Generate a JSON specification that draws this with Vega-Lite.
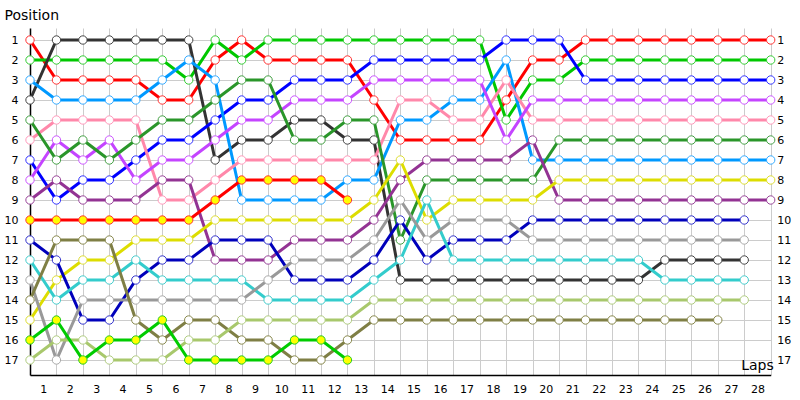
{
"$schema": "https://vega.github.io/schema/vega-lite/v6.json",
"width": 740.7, "height": 347,
"autosize": {"type": "none"},
"padding": {"left": 30, "top": 28, "right": 29.3, "bottom": 25},
"background": "white",
"config": {"view": {"stroke": null}, "font": "DejaVu Sans"},
"data": {"values": [
{"d":"Red","l":0,"p":1},{"d":"Red","l":1,"p":3},{"d":"Red","l":2,"p":3},{"d":"Red","l":3,"p":3},{"d":"Red","l":4,"p":3},{"d":"Red","l":5,"p":4},{"d":"Red","l":6,"p":4},{"d":"Red","l":7,"p":2},{"d":"Red","l":8,"p":1},{"d":"Red","l":9,"p":2},{"d":"Red","l":10,"p":2},{"d":"Red","l":11,"p":2},{"d":"Red","l":12,"p":2},{"d":"Red","l":13,"p":4},{"d":"Red","l":14,"p":6},{"d":"Red","l":15,"p":6},{"d":"Red","l":16,"p":6},{"d":"Red","l":17,"p":6},{"d":"Red","l":18,"p":4},{"d":"Red","l":19,"p":2},{"d":"Red","l":20,"p":2},{"d":"Red","l":21,"p":1},{"d":"Red","l":22,"p":1},{"d":"Red","l":23,"p":1},{"d":"Red","l":24,"p":1},{"d":"Red","l":25,"p":1},{"d":"Red","l":26,"p":1},{"d":"Red","l":27,"p":1},{"d":"Red","l":28,"p":1},
{"d":"Green","l":0,"p":2},{"d":"Green","l":1,"p":2},{"d":"Green","l":2,"p":2},{"d":"Green","l":3,"p":2},{"d":"Green","l":4,"p":2},{"d":"Green","l":5,"p":2},{"d":"Green","l":6,"p":3},{"d":"Green","l":7,"p":1},{"d":"Green","l":8,"p":2},{"d":"Green","l":9,"p":1},{"d":"Green","l":10,"p":1},{"d":"Green","l":11,"p":1},{"d":"Green","l":12,"p":1},{"d":"Green","l":13,"p":1},{"d":"Green","l":14,"p":1},{"d":"Green","l":15,"p":1},{"d":"Green","l":16,"p":1},{"d":"Green","l":17,"p":1},{"d":"Green","l":18,"p":5},{"d":"Green","l":19,"p":3},{"d":"Green","l":20,"p":3},{"d":"Green","l":21,"p":2},{"d":"Green","l":22,"p":2},{"d":"Green","l":23,"p":2},{"d":"Green","l":24,"p":2},{"d":"Green","l":25,"p":2},{"d":"Green","l":26,"p":2},{"d":"Green","l":27,"p":2},{"d":"Green","l":28,"p":2},
{"d":"Black","l":0,"p":4},{"d":"Black","l":1,"p":1},{"d":"Black","l":2,"p":1},{"d":"Black","l":3,"p":1},{"d":"Black","l":4,"p":1},{"d":"Black","l":5,"p":1},{"d":"Black","l":6,"p":1},{"d":"Black","l":7,"p":7},{"d":"Black","l":8,"p":6},{"d":"Black","l":9,"p":6},{"d":"Black","l":10,"p":5},{"d":"Black","l":11,"p":5},{"d":"Black","l":12,"p":6},{"d":"Black","l":13,"p":6},{"d":"Black","l":14,"p":13},{"d":"Black","l":15,"p":13},{"d":"Black","l":16,"p":13},{"d":"Black","l":17,"p":13},{"d":"Black","l":18,"p":13},{"d":"Black","l":19,"p":13},{"d":"Black","l":20,"p":13},{"d":"Black","l":21,"p":13},{"d":"Black","l":22,"p":13},{"d":"Black","l":23,"p":13},{"d":"Black","l":24,"p":12},{"d":"Black","l":25,"p":12},{"d":"Black","l":26,"p":12},{"d":"Black","l":27,"p":12},
{"d":"Blue","l":0,"p":7},{"d":"Blue","l":1,"p":9},{"d":"Blue","l":2,"p":8},{"d":"Blue","l":3,"p":8},{"d":"Blue","l":4,"p":7},{"d":"Blue","l":5,"p":6},{"d":"Blue","l":6,"p":6},{"d":"Blue","l":7,"p":5},{"d":"Blue","l":8,"p":4},{"d":"Blue","l":9,"p":4},{"d":"Blue","l":10,"p":3},{"d":"Blue","l":11,"p":3},{"d":"Blue","l":12,"p":3},{"d":"Blue","l":13,"p":2},{"d":"Blue","l":14,"p":2},{"d":"Blue","l":15,"p":2},{"d":"Blue","l":16,"p":2},{"d":"Blue","l":17,"p":2},{"d":"Blue","l":18,"p":1},{"d":"Blue","l":19,"p":1},{"d":"Blue","l":20,"p":1},{"d":"Blue","l":21,"p":3},{"d":"Blue","l":22,"p":3},{"d":"Blue","l":23,"p":3},{"d":"Blue","l":24,"p":3},{"d":"Blue","l":25,"p":3},{"d":"Blue","l":26,"p":3},{"d":"Blue","l":27,"p":3},{"d":"Blue","l":28,"p":3},
{"d":"Sky","l":0,"p":3},{"d":"Sky","l":1,"p":4},{"d":"Sky","l":2,"p":4},{"d":"Sky","l":3,"p":4},{"d":"Sky","l":4,"p":4},{"d":"Sky","l":5,"p":3},{"d":"Sky","l":6,"p":2},{"d":"Sky","l":7,"p":3},{"d":"Sky","l":8,"p":9},{"d":"Sky","l":9,"p":9},{"d":"Sky","l":10,"p":9},{"d":"Sky","l":11,"p":9},{"d":"Sky","l":12,"p":8},{"d":"Sky","l":13,"p":8},{"d":"Sky","l":14,"p":5},{"d":"Sky","l":15,"p":5},{"d":"Sky","l":16,"p":4},{"d":"Sky","l":17,"p":4},{"d":"Sky","l":18,"p":2},{"d":"Sky","l":19,"p":7},{"d":"Sky","l":20,"p":7},{"d":"Sky","l":21,"p":7},{"d":"Sky","l":22,"p":7},{"d":"Sky","l":23,"p":7},{"d":"Sky","l":24,"p":7},{"d":"Sky","l":25,"p":7},{"d":"Sky","l":26,"p":7},{"d":"Sky","l":27,"p":7},{"d":"Sky","l":28,"p":7},
{"d":"Pink","l":0,"p":6},{"d":"Pink","l":1,"p":5},{"d":"Pink","l":2,"p":5},{"d":"Pink","l":3,"p":5},{"d":"Pink","l":4,"p":5},{"d":"Pink","l":5,"p":9},{"d":"Pink","l":6,"p":9},{"d":"Pink","l":7,"p":8},{"d":"Pink","l":8,"p":7},{"d":"Pink","l":9,"p":7},{"d":"Pink","l":10,"p":7},{"d":"Pink","l":11,"p":7},{"d":"Pink","l":12,"p":7},{"d":"Pink","l":13,"p":7},{"d":"Pink","l":14,"p":4},{"d":"Pink","l":15,"p":4},{"d":"Pink","l":16,"p":5},{"d":"Pink","l":17,"p":5},{"d":"Pink","l":18,"p":3},{"d":"Pink","l":19,"p":5},{"d":"Pink","l":20,"p":5},{"d":"Pink","l":21,"p":5},{"d":"Pink","l":22,"p":5},{"d":"Pink","l":23,"p":5},{"d":"Pink","l":24,"p":5},{"d":"Pink","l":25,"p":5},{"d":"Pink","l":26,"p":5},{"d":"Pink","l":27,"p":5},{"d":"Pink","l":28,"p":5},
{"d":"Violet","l":0,"p":8},{"d":"Violet","l":1,"p":6},{"d":"Violet","l":2,"p":7},{"d":"Violet","l":3,"p":6},{"d":"Violet","l":4,"p":8},{"d":"Violet","l":5,"p":7},{"d":"Violet","l":6,"p":7},{"d":"Violet","l":7,"p":6},{"d":"Violet","l":8,"p":5},{"d":"Violet","l":9,"p":5},{"d":"Violet","l":10,"p":4},{"d":"Violet","l":11,"p":4},{"d":"Violet","l":12,"p":4},{"d":"Violet","l":13,"p":3},{"d":"Violet","l":14,"p":3},{"d":"Violet","l":15,"p":3},{"d":"Violet","l":16,"p":3},{"d":"Violet","l":17,"p":3},{"d":"Violet","l":18,"p":6},{"d":"Violet","l":19,"p":4},{"d":"Violet","l":20,"p":4},{"d":"Violet","l":21,"p":4},{"d":"Violet","l":22,"p":4},{"d":"Violet","l":23,"p":4},{"d":"Violet","l":24,"p":4},{"d":"Violet","l":25,"p":4},{"d":"Violet","l":26,"p":4},{"d":"Violet","l":27,"p":4},{"d":"Violet","l":28,"p":4},
{"d":"DarkGreen","l":0,"p":5},{"d":"DarkGreen","l":1,"p":7},{"d":"DarkGreen","l":2,"p":6},{"d":"DarkGreen","l":3,"p":7},{"d":"DarkGreen","l":4,"p":6},{"d":"DarkGreen","l":5,"p":5},{"d":"DarkGreen","l":6,"p":5},{"d":"DarkGreen","l":7,"p":4},{"d":"DarkGreen","l":8,"p":3},{"d":"DarkGreen","l":9,"p":3},{"d":"DarkGreen","l":10,"p":6},{"d":"DarkGreen","l":11,"p":6},{"d":"DarkGreen","l":12,"p":5},{"d":"DarkGreen","l":13,"p":5},{"d":"DarkGreen","l":14,"p":11},{"d":"DarkGreen","l":15,"p":8},{"d":"DarkGreen","l":16,"p":8},{"d":"DarkGreen","l":17,"p":8},{"d":"DarkGreen","l":18,"p":8},{"d":"DarkGreen","l":19,"p":8},{"d":"DarkGreen","l":20,"p":6},{"d":"DarkGreen","l":21,"p":6},{"d":"DarkGreen","l":22,"p":6},{"d":"DarkGreen","l":23,"p":6},{"d":"DarkGreen","l":24,"p":6},{"d":"DarkGreen","l":25,"p":6},{"d":"DarkGreen","l":26,"p":6},{"d":"DarkGreen","l":27,"p":6},{"d":"DarkGreen","l":28,"p":6},
{"d":"Purple","l":0,"p":9},{"d":"Purple","l":1,"p":8},{"d":"Purple","l":2,"p":9},{"d":"Purple","l":3,"p":9},{"d":"Purple","l":4,"p":9},{"d":"Purple","l":5,"p":8},{"d":"Purple","l":6,"p":8},{"d":"Purple","l":7,"p":12},{"d":"Purple","l":8,"p":12},{"d":"Purple","l":9,"p":12},{"d":"Purple","l":10,"p":11},{"d":"Purple","l":11,"p":11},{"d":"Purple","l":12,"p":11},{"d":"Purple","l":13,"p":10},{"d":"Purple","l":14,"p":8},{"d":"Purple","l":15,"p":7},{"d":"Purple","l":16,"p":7},{"d":"Purple","l":17,"p":7},{"d":"Purple","l":18,"p":7},{"d":"Purple","l":19,"p":6},{"d":"Purple","l":20,"p":9},{"d":"Purple","l":21,"p":9},{"d":"Purple","l":22,"p":9},{"d":"Purple","l":23,"p":9},{"d":"Purple","l":24,"p":9},{"d":"Purple","l":25,"p":9},{"d":"Purple","l":26,"p":9},{"d":"Purple","l":27,"p":9},{"d":"Purple","l":28,"p":9},
{"d":"Yellow","l":0,"p":15},{"d":"Yellow","l":1,"p":13},{"d":"Yellow","l":2,"p":12},{"d":"Yellow","l":3,"p":12},{"d":"Yellow","l":4,"p":11},{"d":"Yellow","l":5,"p":11},{"d":"Yellow","l":6,"p":11},{"d":"Yellow","l":7,"p":10},{"d":"Yellow","l":8,"p":10},{"d":"Yellow","l":9,"p":10},{"d":"Yellow","l":10,"p":10},{"d":"Yellow","l":11,"p":10},{"d":"Yellow","l":12,"p":10},{"d":"Yellow","l":13,"p":9},{"d":"Yellow","l":14,"p":7},{"d":"Yellow","l":15,"p":10},{"d":"Yellow","l":16,"p":9},{"d":"Yellow","l":17,"p":9},{"d":"Yellow","l":18,"p":9},{"d":"Yellow","l":19,"p":9},{"d":"Yellow","l":20,"p":8},{"d":"Yellow","l":21,"p":8},{"d":"Yellow","l":22,"p":8},{"d":"Yellow","l":23,"p":8},{"d":"Yellow","l":24,"p":8},{"d":"Yellow","l":25,"p":8},{"d":"Yellow","l":26,"p":8},{"d":"Yellow","l":27,"p":8},{"d":"Yellow","l":28,"p":8},
{"d":"Navy","l":0,"p":11},{"d":"Navy","l":1,"p":12},{"d":"Navy","l":2,"p":15},{"d":"Navy","l":3,"p":15},{"d":"Navy","l":4,"p":13},{"d":"Navy","l":5,"p":12},{"d":"Navy","l":6,"p":12},{"d":"Navy","l":7,"p":11},{"d":"Navy","l":8,"p":11},{"d":"Navy","l":9,"p":11},{"d":"Navy","l":10,"p":13},{"d":"Navy","l":11,"p":13},{"d":"Navy","l":12,"p":13},{"d":"Navy","l":13,"p":12},{"d":"Navy","l":14,"p":10},{"d":"Navy","l":15,"p":12},{"d":"Navy","l":16,"p":11},{"d":"Navy","l":17,"p":11},{"d":"Navy","l":18,"p":11},{"d":"Navy","l":19,"p":10},{"d":"Navy","l":20,"p":10},{"d":"Navy","l":21,"p":10},{"d":"Navy","l":22,"p":10},{"d":"Navy","l":23,"p":10},{"d":"Navy","l":24,"p":10},{"d":"Navy","l":25,"p":10},{"d":"Navy","l":26,"p":10},{"d":"Navy","l":27,"p":10},
{"d":"Teal","l":0,"p":12},{"d":"Teal","l":1,"p":14},{"d":"Teal","l":2,"p":13},{"d":"Teal","l":3,"p":13},{"d":"Teal","l":4,"p":12},{"d":"Teal","l":5,"p":13},{"d":"Teal","l":6,"p":13},{"d":"Teal","l":7,"p":13},{"d":"Teal","l":8,"p":13},{"d":"Teal","l":9,"p":14},{"d":"Teal","l":10,"p":14},{"d":"Teal","l":11,"p":14},{"d":"Teal","l":12,"p":14},{"d":"Teal","l":13,"p":13},{"d":"Teal","l":14,"p":12},{"d":"Teal","l":15,"p":9},{"d":"Teal","l":16,"p":12},{"d":"Teal","l":17,"p":12},{"d":"Teal","l":18,"p":12},{"d":"Teal","l":19,"p":12},{"d":"Teal","l":20,"p":12},{"d":"Teal","l":21,"p":12},{"d":"Teal","l":22,"p":12},{"d":"Teal","l":23,"p":12},{"d":"Teal","l":24,"p":13},{"d":"Teal","l":25,"p":13},{"d":"Teal","l":26,"p":13},{"d":"Teal","l":27,"p":13},
{"d":"Gray","l":0,"p":13},{"d":"Gray","l":1,"p":17},{"d":"Gray","l":2,"p":14},{"d":"Gray","l":3,"p":14},{"d":"Gray","l":4,"p":14},{"d":"Gray","l":5,"p":14},{"d":"Gray","l":6,"p":14},{"d":"Gray","l":7,"p":14},{"d":"Gray","l":8,"p":14},{"d":"Gray","l":9,"p":13},{"d":"Gray","l":10,"p":12},{"d":"Gray","l":11,"p":12},{"d":"Gray","l":12,"p":12},{"d":"Gray","l":13,"p":11},{"d":"Gray","l":14,"p":9},{"d":"Gray","l":15,"p":11},{"d":"Gray","l":16,"p":10},{"d":"Gray","l":17,"p":10},{"d":"Gray","l":18,"p":10},{"d":"Gray","l":19,"p":11},{"d":"Gray","l":20,"p":11},{"d":"Gray","l":21,"p":11},{"d":"Gray","l":22,"p":11},{"d":"Gray","l":23,"p":11},{"d":"Gray","l":24,"p":11},{"d":"Gray","l":25,"p":11},{"d":"Gray","l":26,"p":11},{"d":"Gray","l":27,"p":11},
{"d":"Olive","l":0,"p":14},{"d":"Olive","l":1,"p":11},{"d":"Olive","l":2,"p":11},{"d":"Olive","l":3,"p":11},{"d":"Olive","l":4,"p":15},{"d":"Olive","l":5,"p":16},{"d":"Olive","l":6,"p":15},{"d":"Olive","l":7,"p":15},{"d":"Olive","l":8,"p":16},{"d":"Olive","l":9,"p":16},{"d":"Olive","l":10,"p":17},{"d":"Olive","l":11,"p":17},{"d":"Olive","l":12,"p":16},{"d":"Olive","l":13,"p":15},{"d":"Olive","l":14,"p":15},{"d":"Olive","l":15,"p":15},{"d":"Olive","l":16,"p":15},{"d":"Olive","l":17,"p":15},{"d":"Olive","l":18,"p":15},{"d":"Olive","l":19,"p":15},{"d":"Olive","l":20,"p":15},{"d":"Olive","l":21,"p":15},{"d":"Olive","l":22,"p":15},{"d":"Olive","l":23,"p":15},{"d":"Olive","l":24,"p":15},{"d":"Olive","l":25,"p":15},{"d":"Olive","l":26,"p":15},
{"d":"LightGreen","l":0,"p":17},{"d":"LightGreen","l":1,"p":16},{"d":"LightGreen","l":2,"p":16},{"d":"LightGreen","l":3,"p":17},{"d":"LightGreen","l":4,"p":17},{"d":"LightGreen","l":5,"p":17},{"d":"LightGreen","l":6,"p":16},{"d":"LightGreen","l":7,"p":16},{"d":"LightGreen","l":8,"p":15},{"d":"LightGreen","l":9,"p":15},{"d":"LightGreen","l":10,"p":15},{"d":"LightGreen","l":11,"p":15},{"d":"LightGreen","l":12,"p":15},{"d":"LightGreen","l":13,"p":14},{"d":"LightGreen","l":14,"p":14},{"d":"LightGreen","l":15,"p":14},{"d":"LightGreen","l":16,"p":14},{"d":"LightGreen","l":17,"p":14},{"d":"LightGreen","l":18,"p":14},{"d":"LightGreen","l":19,"p":14},{"d":"LightGreen","l":20,"p":14},{"d":"LightGreen","l":21,"p":14},{"d":"LightGreen","l":22,"p":14},{"d":"LightGreen","l":23,"p":14},{"d":"LightGreen","l":24,"p":14},{"d":"LightGreen","l":25,"p":14},{"d":"LightGreen","l":26,"p":14},{"d":"LightGreen","l":27,"p":14},
{"d":"RedY","l":0,"p":10},{"d":"RedY","l":1,"p":10},{"d":"RedY","l":2,"p":10},{"d":"RedY","l":3,"p":10},{"d":"RedY","l":4,"p":10},{"d":"RedY","l":5,"p":10},{"d":"RedY","l":6,"p":10},{"d":"RedY","l":7,"p":9},{"d":"RedY","l":8,"p":8},{"d":"RedY","l":9,"p":8},{"d":"RedY","l":10,"p":8},{"d":"RedY","l":11,"p":8},{"d":"RedY","l":12,"p":9},
{"d":"GreenY","l":0,"p":16},{"d":"GreenY","l":1,"p":15},{"d":"GreenY","l":2,"p":17},{"d":"GreenY","l":3,"p":16},{"d":"GreenY","l":4,"p":16},{"d":"GreenY","l":5,"p":15},{"d":"GreenY","l":6,"p":17},{"d":"GreenY","l":7,"p":17},{"d":"GreenY","l":8,"p":17},{"d":"GreenY","l":9,"p":17},{"d":"GreenY","l":10,"p":16},{"d":"GreenY","l":11,"p":16},{"d":"GreenY","l":12,"p":17}
]},
"resolve": {"axis": {"y": "independent"}},
"layer": [
{
"mark": {"type": "line", "strokeWidth": 3},
"encoding": {
"x": {"field": "l", "type": "quantitative",
 "scale": {"domain": [0, 28], "nice": false, "zero": false},
 "axis": {"values": [1,2,3,4,5,6,7,8,9,10,11,12,13,14,15,16,17,18,19,20,21,22,23,24,25,26,27,28],
  "format": "d", "labelOffset": -13.2, "labelFlush": false, "labelOverlap": false,
  "labelFontSize": 11, "labelColor": "black", "labelPadding": 8, "ticks": false,
  "grid": true, "gridColor": "#cccccc", "gridWidth": 1, "domainColor": "black", "domainWidth": 1.5,
  "title": "Laps", "titleX": 727, "titleY": -10, "titleAlign": "center", "titleBaseline": "middle",
  "titleFontSize": 14, "titleFontWeight": "normal", "titleColor": "black"}},
"y": {"field": "p", "type": "quantitative",
 "scale": {"domain": [0.4, 17.75], "nice": false, "zero": false, "reverse": true},
 "axis": {"values": [1,2,3,4,5,6,7,8,9,10,11,12,13,14,15,16,17], "format": "d",
  "labelFlush": false, "labelOverlap": false, "labelFontSize": 11, "labelColor": "black",
  "labelPadding": 12, "ticks": false, "grid": true, "gridColor": "#cccccc", "gridWidth": 1,
  "domainColor": "black", "domainWidth": 1.5,
  "title": "Position", "titleAngle": 0, "titleX": -26, "titleY": -13, "titleAlign": "left",
  "titleBaseline": "middle", "titleFontSize": 14, "titleFontWeight": "normal", "titleColor": "black"}},
"color": {"field": "d", "type": "nominal", "legend": null,
 "scale": {"domain": ["Red","Green","Black","Blue","Sky","Pink","Violet","DarkGreen","Purple","Yellow","Navy","Teal","Gray","Olive","LightGreen","RedY","GreenY"],
  "range": ["#ff0000","#00c800","#333333","#0000ff","#0099ff","#ff88aa","#c444ff","#2a962a","#933393","#dddd00","#0000bb","#33cccc","#999999","#7f7f45","#a8c86c","#ff0000","#00cc00"]}}
}
},
{
"mark": {"type": "point", "shape": "circle", "size": 70, "strokeWidth": 1, "opacity": 1, "fillOpacity": 1, "strokeOpacity": 1, "filled": true},
"encoding": {
"x": {"field": "l", "type": "quantitative",
 "axis": {"values": [1,2,3,4,5,6,7,8,9,10,11,12,13,14,15,16,17,18,19,20,21,22,23,24,25,26,27,28],
  "format": "d", "labelOffset": -13.2, "labelFlush": false, "labelOverlap": false,
  "labelFontSize": 11, "labelColor": "black", "labelPadding": 8, "ticks": false,
  "grid": true, "gridColor": "#cccccc", "gridWidth": 1, "domainColor": "black", "domainWidth": 1.5,
  "title": "Laps", "titleX": 727, "titleY": -10, "titleAlign": "center", "titleBaseline": "middle",
  "titleFontSize": 14, "titleFontWeight": "normal", "titleColor": "black"}},
"y": {"field": "p", "type": "quantitative",
 "axis": {"orient": "right", "values": [1,2,3,4,5,6,7,8,9,10,11,12,13,14,15,16,17], "format": "d",
  "labelFlush": false, "labelOverlap": false, "labelFontSize": 11, "labelColor": "black",
  "labelPadding": 6, "ticks": false, "grid": false, "domain": false, "title": null}},
"stroke": {"field": "d", "type": "nominal", "legend": null,
 "scale": {"domain": ["Red","Green","Black","Blue","Sky","Pink","Violet","DarkGreen","Purple","Yellow","Navy","Teal","Gray","Olive","LightGreen","RedY","GreenY"],
  "range": ["#ff3333","#33cc33","#444444","#3333ff","#33aaff","#ff99bb","#cc55ff","#44a044","#994499","#dddd33","#3333cc","#44cccc","#aaaaaa","#88884d","#b0cc80","#ff3333","#22cc22"]}},
"fill": {"condition": {"test": "datum.d === 'RedY' || datum.d === 'GreenY'", "value": "#ffff00"}, "value": "#ffffff"}
}
}
]
}
